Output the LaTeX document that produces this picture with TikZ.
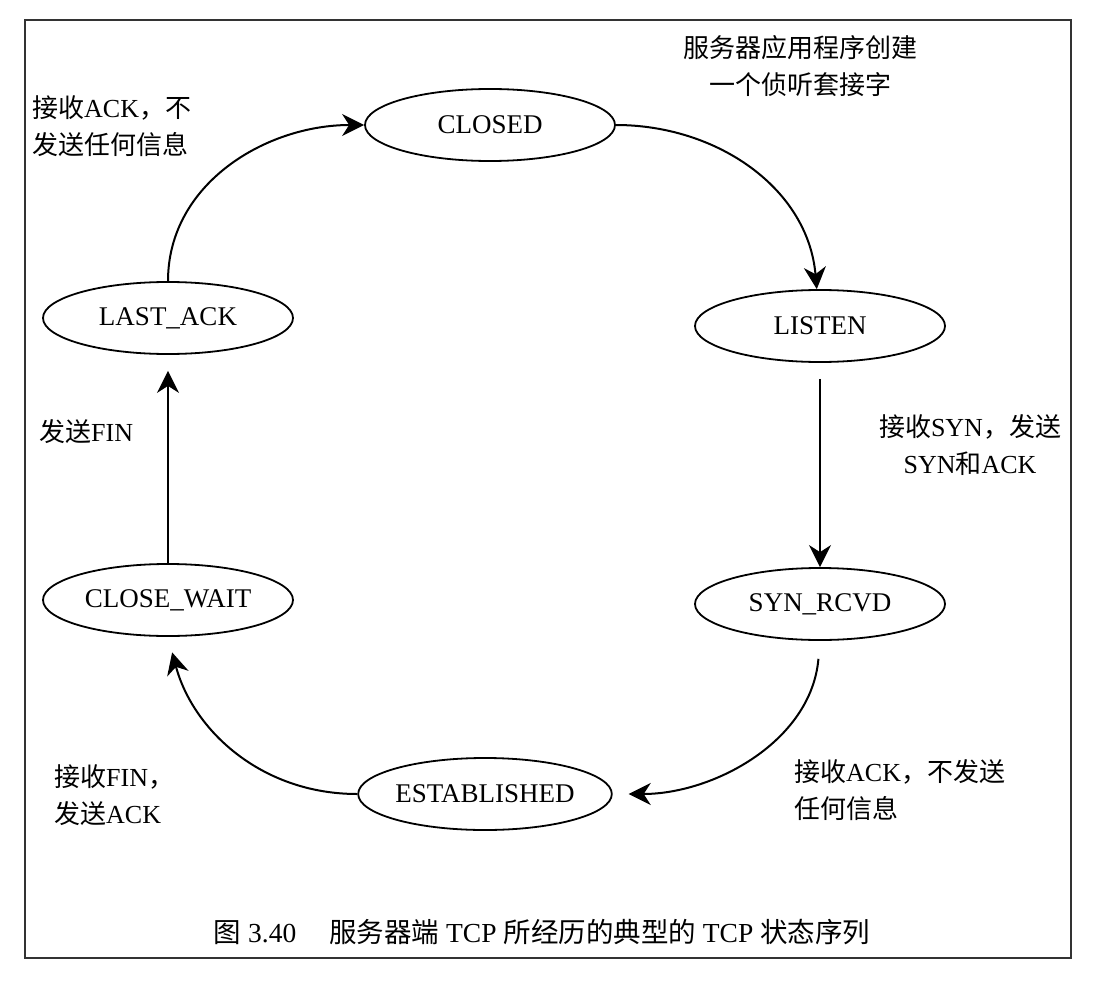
\documentclass[tikz,border=0pt]{standalone}
\usepackage{fontspec}
\setmainfont{Liberation Serif}
\newfontfamily\cjkfont{Noto Sans CJK SC}
\newcommand\zh[1]{{\cjkfont #1}}
\usetikzlibrary{shapes.geometric,arrows.meta}
\begin{document}
\begin{tikzpicture}[x=1pt,y=1pt,
  state/.style={ellipse,draw,line width=1.8pt,minimum width=250pt,minimum height=72pt,inner sep=0pt,font=\fontsize{27}{37}\selectfont},
  lbl/.style={font=\fontsize{26}{37}\selectfont,inner sep=0pt},
  conn/.style={line width=2pt,-{Stealth[length=22pt,width=22pt,inset=7pt]}}
]
\path[use as bounding box] (0,0) rectangle (1102,-984);
\draw[line width=1.8pt,draw=black!80] (25,-20) rectangle (1071,-958);

\node[state] (closed) at (490,-125) {CLOSED};
\node[state] (listen) at (820,-326) {LISTEN};
\node[state] (synrcvd) at (820,-604) {SYN\_RCVD};
\node[state] (est) at (485,-794) {ESTABLISHED};
\node[state] (closewait) at (168,-600) {CLOSE\_WAIT};
\node[state] (lastack) at (168,-318) {LAST\_ACK};

\draw[conn] (closed.east) to[out=0,in=95] (listen.95);
\draw[conn,shorten <=16pt] (listen) -- (synrcvd);
\draw[conn,shorten <=18pt,shorten >=16pt] (synrcvd.south) to[out=-95,in=0] (est.east);
\draw[conn,shorten >=16pt] (est.west) to[out=180,in=-75] (closewait.south);
\draw[conn,shorten >=16pt] (closewait) -- (lastack);
\draw[conn] (lastack.north) to[out=90,in=180] (closed.west);

\node[lbl,align=center] (t1) at (800,-66) {\zh{服务器应用程序创建}\\\zh{一个侦听套接字}};
\node[lbl,align=left,anchor=west] (t2) at (32,-126) {\zh{接收}ACK\zh{，不}\\\zh{发送任何信息}};
\node[lbl,anchor=west] (t3) at (39,-432) {\zh{发送}FIN};
\node[lbl,align=center] (t4) at (970,-445) {\zh{接收}SYN\zh{，发送}\\SYN\zh{和}ACK};
\node[lbl,align=left,anchor=west] (t5) at (54,-795) {\zh{接收}FIN\zh{，}\\\zh{发送}ACK};
\node[lbl,align=left,anchor=west] (t6) at (794,-790) {\zh{接收}ACK\zh{，不发送}\\\zh{任何信息}};
\node[lbl,font=\fontsize{27.5}{37}\selectfont] (cap) at (542,-932) {\zh{图} 3.40\hspace{1.2em}\zh{服务器端} TCP \zh{所经历的典型的} TCP \zh{状态序列}};
\end{tikzpicture}
\end{document}
